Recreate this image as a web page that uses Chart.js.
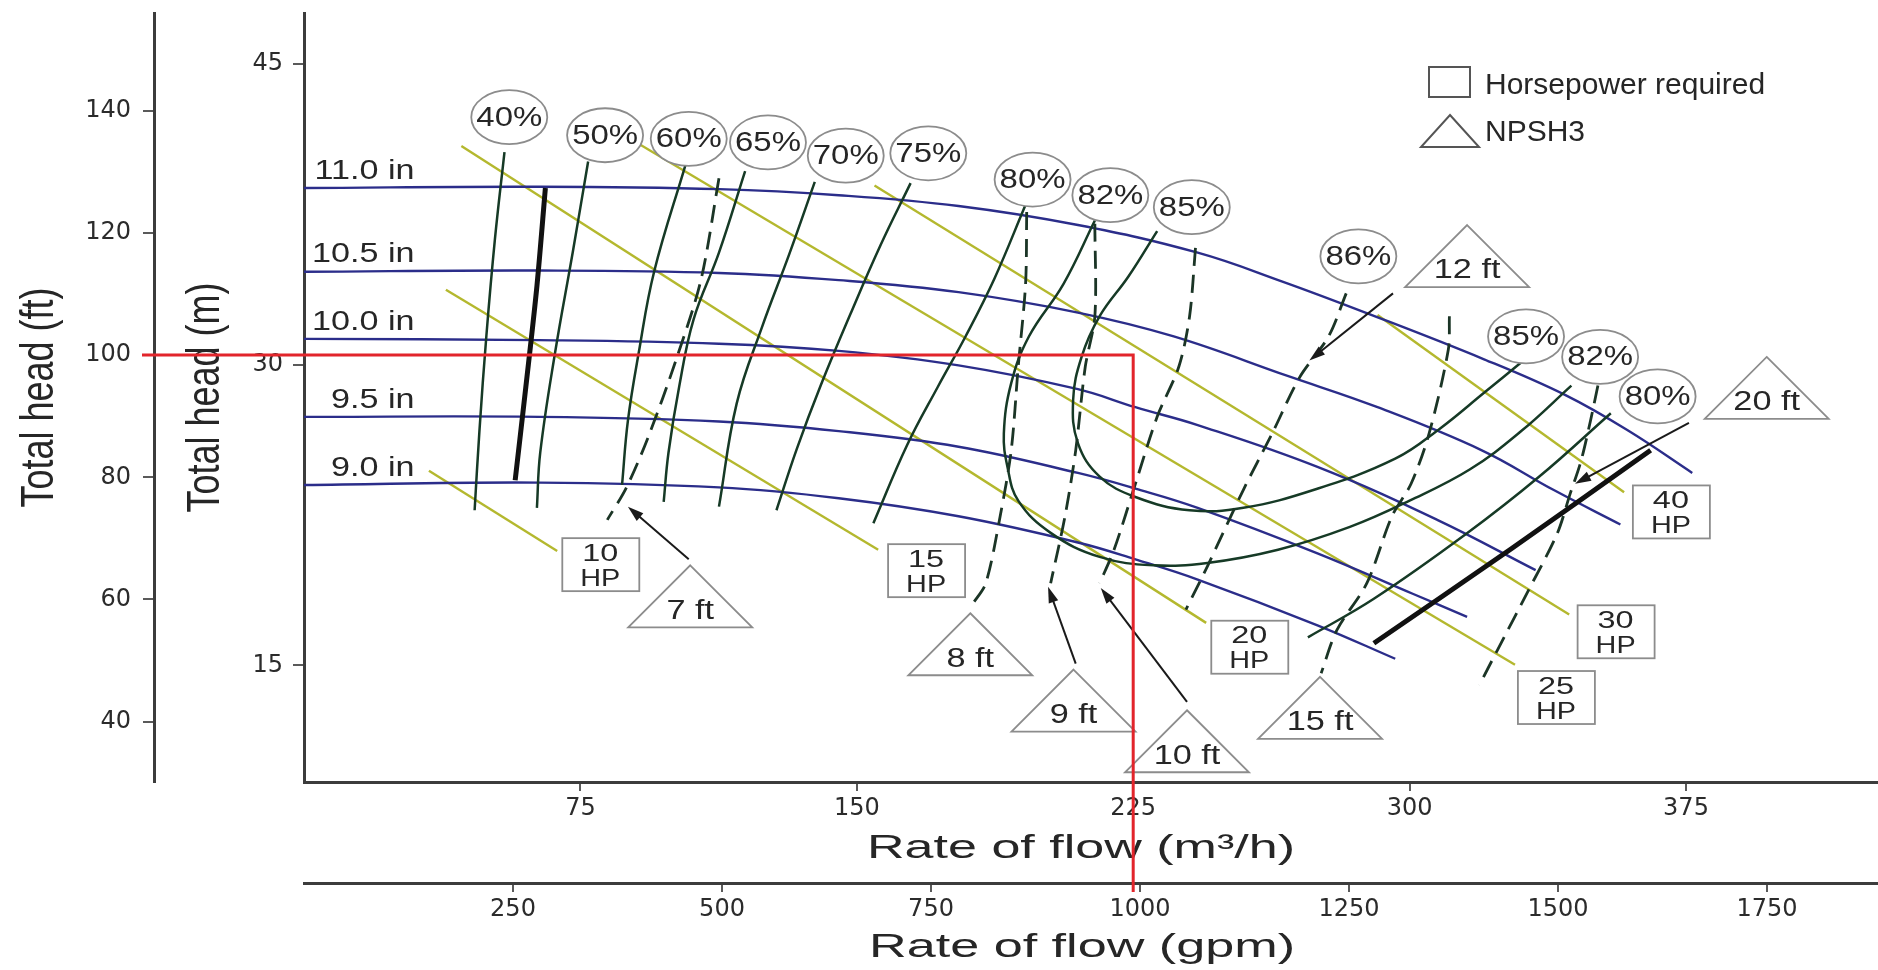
<!DOCTYPE html>
<html>
<head>
<meta charset="utf-8">
<title>Pump curves</title>
<script src="https://cdn.jsdelivr.net/npm/chart.js@4.4.1/dist/chart.umd.min.js"></script>
<style>
  html, body { margin: 0; padding: 0; background: #fff; overflow: hidden; }
  .graph { position: relative; width: 1878px; height: 970px; }
</style>
</head>
<body>
<div class="graph"><canvas id="pumpChart"></canvas></div>
<script>
// axis ticks
const flowTicks = [75, 150, 225, 300, 375];              // m3/h
const gpmTicks = [250, 500, 750, 1000, 1250, 1500, 1750];
const headMTicks = [15, 30, 45];
const headFtTicks = [40, 60, 80, 100, 120, 140];
const FT_PER_M = 3.2808;

// impeller curves, [flow m3/h, head m]
const impellerLabels = ['11.0 in', '10.5 in', '10.0 in', '9.5 in', '9.0 in'];
const imp110 = [[0, 38.82], [63.8, 38.88], [112.6, 38.76], [145.1, 38.46], [177.6, 37.92], [210.0, 36.97], [242.5, 35.59], [265.3, 34.16], [288.0, 32.6], [320.2, 30.27], [342.3, 28.48], [359.5, 26.69], [376.7, 24.6]];
const imp105 = [[0, 34.64], [63.8, 34.7], [112.6, 34.58], [145.1, 34.22], [177.6, 33.62], [210.0, 32.6], [236.0, 31.41], [266.9, 29.44], [291.3, 27.88], [319.6, 25.73], [339.0, 23.76], [357.2, 22.03]];
const imp100 = [[0, 31.29], [63.8, 31.23], [112.6, 31.05], [145.1, 30.69], [177.6, 29.97], [210.0, 28.78], [225.6, 27.88], [242.5, 26.99], [275.0, 24.9], [307.5, 22.26], [334.2, 19.75]];
const imp95 = [[0, 27.4], [63.8, 27.4], [112.6, 27.17], [145.1, 26.69], [177.6, 25.91], [210.0, 24.6], [225.6, 23.82], [242.5, 22.86], [275.0, 20.59], [301.0, 18.56], [315.6, 17.42]];
const imp90 = [[0, 24.0], [63.8, 24.12], [112.6, 23.88], [145.1, 23.34], [177.6, 22.44], [210.0, 21.13], [225.6, 20.29], [242.5, 19.28], [275.0, 17.0], [296.1, 15.33]];
const impellerCurves = [imp110, imp105, imp100, imp95, imp90];

// horsepower required
const hpLabels = ['10', '15', '20', '25', '30', '40'];
const hp10 = [[33.9, 24.71], [68.7, 20.71]];
const hp15 = [[38.5, 33.74], [155.8, 20.77]];
const hp20 = [[42.7, 40.91], [244.8, 17.12]];
const hp25 = [[90.8, 41.03], [328.6, 15.03]];
const hp30 = [[154.8, 38.94], [343.3, 17.54]];
const hp40 = [[291.3, 32.48], [358.2, 23.64]];
const hpLines = [hp10, hp15, hp20, hp25, hp30, hp40];
const hpBoxAt = [[80.4, 20.05], [168.8, 19.75], [256.5, 15.93], [339.7, 13.42], [355.9, 16.7], [370.9, 22.68]];

// efficiency
const eff40 = [[54.4, 40.61], [51.8, 36.25], [49.5, 31.47], [47.6, 26.69], [46.3, 22.74]];
const eff50 = [[77.1, 40.14], [72.9, 35.59], [68.1, 30.57], [64.1, 25.61], [63.2, 22.86]];
const eff60 = [[103.5, 39.96], [95.0, 34.64], [90.8, 30.57], [87.9, 27.22], [86.3, 24.0]];
const eff65 = [[119.7, 39.66], [112.6, 35.59], [105.7, 32.25], [101.8, 28.9], [98.9, 25.61], [97.6, 23.16]];
const eff70 = [[138.6, 39.12], [131.7, 35.53], [124.3, 31.89], [117.4, 28.06], [112.6, 22.92]];
const eff75 = [[164.6, 39.06], [156.4, 35.95], [148.3, 32.54], [140.2, 28.96], [133.7, 25.79], [128.2, 22.74]];
const eff80a = [[195.8, 37.98], [187.3, 34.28], [179.5, 31.41], [172.0, 28.9], [163.6, 25.97], [154.5, 22.09]];
const eff82 = [[214.6, 37.2], [206.1, 34.04], [196.7, 31.41], [191.9, 29.08], [189.9, 26.57], [190.9, 24.89], [193.8, 23.22], [202.6, 21.61], [215.9, 20.41], [230.5, 19.99], [245.1, 20.11], [264.3, 20.77], [283.8, 21.91], [300.0, 23.22], [316.3, 24.77], [330.3, 26.69], [343.9, 28.96]];
const eff85 = [[231.5, 36.67], [223.7, 34.4], [215.9, 32.42], [211.0, 30.39], [208.7, 28.24], [210.0, 26.09], [215.9, 24.42], [225.6, 23.4], [240.3, 22.74], [254.9, 22.86], [274.1, 23.76], [296.1, 25.31], [308.2, 26.81], [320.2, 28.6], [330.9, 30.21]];
const eff80b = [[272.4, 16.4], [290.3, 18.32], [315.3, 21.55], [335.2, 24.42], [354.6, 27.58]];
const effLines = [eff40, eff50, eff60, eff65, eff70, eff75, eff80a, eff82, eff85, eff80b];
const effLabels = ['40%', '50%', '60%', '65%', '70%', '75%', '80%', '82%', '85%', '86%', '85%', '82%', '80%'];
const effLabelAt = [[55.7, 42.35], [81.7, 41.45], [104.4, 41.27], [125.9, 41.09], [147.0, 40.43], [169.4, 40.55], [197.7, 39.24], [218.8, 38.46], [240.9, 37.86], [286.1, 35.41], [331.6, 31.41], [351.7, 30.39], [367.3, 28.42]];

// operating limits (thick lines)
const minFlowLine = [[65.5, 38.82], [63.2, 33.92], [60.2, 28.9], [57.3, 24.24]];
const maxFlowLine = [[290.3, 16.1], [327.7, 20.83], [365.4, 25.73]];

// NPSH3
const npshLabels = ['7 ft', '8 ft', '9 ft', '10 ft', '12 ft', '15 ft', '20 ft'];
const npsh7 = [[112.6, 39.3], [107.7, 34.22], [100.9, 30.21], [93.4, 26.39], [87.5, 23.88], [82.3, 22.26]];
const npsh8 = [[196.1, 37.62], [195.8, 34.04], [193.8, 29.91], [191.9, 25.73], [188.9, 22.44], [185.0, 19.1], [181.5, 18.08]];
const npsh9 = [[214.6, 37.03], [214.6, 32.42], [212.0, 29.91], [209.4, 25.73], [206.5, 22.44], [202.6, 19.1]];
const npsh10 = [[241.9, 35.83], [240.3, 32.42], [237.4, 29.91], [231.5, 27.4], [225.6, 24.06], [219.8, 20.77], [215.9, 19.1]];
const npsh12 = [[282.8, 33.56], [278.0, 31.41], [270.2, 29.38], [262.7, 26.57], [254.9, 23.76], [245.1, 19.93], [239.3, 17.78]];
const npsh15 = [[310.8, 32.42], [310.5, 30.75], [305.3, 26.57], [300.4, 24.06], [295.2, 22.44], [288.4, 19.1], [280.3, 16.77], [276.0, 14.61]];
const npsh20 = [[351.1, 28.96], [349.1, 27.22], [346.5, 25.19], [343.6, 23.58], [340.0, 21.55], [331.9, 18.62], [323.8, 15.75], [318.9, 14.01]];
const npshLines = [npsh7, npsh8, npsh9, npsh10, npsh12, npsh15, npsh20];
const npshTriAt = [[104.8, 19.99], [180.8, 17.6], [208.8, 14.79], [239.6, 12.76], [315.6, 36.97], [275.7, 14.43], [396.9, 30.39]];
const npshArrowFrom = [[104.4, 20.29], null, [209.4, 15.09], [239.6, 13.18], [295.5, 33.56], null, [375.8, 27.1]];
const npshArrowTo = [[87.9, 22.92], null, [201.9, 18.92], [216.2, 18.86], [272.8, 30.21], null, [344.9, 24.06]];

// duty point
const dutyFlow = 225;
const dutyHeadFt = 100;

const ink = '#262626';
const sans = '"Liberation Sans", Arial, sans-serif';

function pts(arr) {
  return arr.map(function (p) { return { x: p[0], y: p[1] }; });
}

function putText(ctx, str, x, y, size, sx, align) {
  ctx.save();
  ctx.translate(x, y);
  ctx.scale(sx, 1);
  ctx.font = size + 'px ' + sans;
  ctx.textAlign = align || 'center';
  ctx.textBaseline = 'middle';
  ctx.fillStyle = ink;
  ctx.fillText(str, 0, 0);
  ctx.restore();
}

function putVertical(ctx, str, x, y, size, thick) {
  ctx.save();
  ctx.translate(x, y);
  ctx.rotate(-Math.PI / 2);
  ctx.scale(1, thick);
  ctx.font = size + 'px ' + sans;
  ctx.textAlign = 'center';
  ctx.textBaseline = 'middle';
  ctx.fillStyle = ink;
  ctx.fillText(str, 0, 0);
  ctx.restore();
}

function putWide(ctx, str, x, y, size, width) {
  ctx.save();
  ctx.font = size + 'px ' + sans;
  const sx = width / ctx.measureText(str).width;
  ctx.translate(x, y);
  ctx.scale(sx, 1);
  ctx.textAlign = 'center';
  ctx.textBaseline = 'middle';
  ctx.fillStyle = ink;
  ctx.fillText(str, 0, 0);
  ctx.restore();
}

function arrow(ctx, x1, y1, x2, y2) {
  const a = Math.atan2(y2 - y1, x2 - x1);
  const c = Math.cos(a), s = Math.sin(a);
  ctx.beginPath();
  ctx.moveTo(x1, y1);
  ctx.lineTo(x2 - 10 * c, y2 - 10 * s);
  ctx.stroke();
  ctx.beginPath();
  ctx.moveTo(x2, y2);
  ctx.lineTo(x2 - 16 * c + 5 * s, y2 - 16 * s - 5 * c);
  ctx.lineTo(x2 - 16 * c - 5 * s, y2 - 16 * s + 5 * c);
  ctx.closePath();
  ctx.fill();
}

function triangle(ctx, ax, ay, w, h) {
  ctx.beginPath();
  ctx.moveTo(ax, ay);
  ctx.lineTo(ax + w / 2, ay + h);
  ctx.lineTo(ax - w / 2, ay + h);
  ctx.closePath();
  ctx.fill();
  ctx.stroke();
}

const pumpMarks = {
  id: 'pumpMarks',
  afterDatasetsDraw(chart) {
    const ctx = chart.ctx;
    const x = chart.scales.x, y = chart.scales.y;
    const X = function (v) { return x.getPixelForValue(v); };
    const Y = function (v) { return y.getPixelForValue(v); };
    ctx.save();

    // impeller diameters, right aligned above the shut-off end
    impellerCurves.forEach(function (c, i) {
      putText(ctx, impellerLabels[i], X(30), Y(c[0][1]) - 17, 28, 1.22, 'right');
    });

    // efficiency ellipses
    ctx.lineWidth = 1.8;
    ctx.strokeStyle = '#8c8c8c';
    effLabels.forEach(function (t, i) {
      const cx = X(effLabelAt[i][0]), cy = Y(effLabelAt[i][1]);
      ctx.beginPath();
      ctx.ellipse(cx, cy, 38, 27, 0, 0, Math.PI * 2);
      ctx.fillStyle = '#fff';
      ctx.fill();
      ctx.stroke();
      putText(ctx, t, cx, cy + 1, 27, 1.22);
    });

    // horsepower boxes
    hpLabels.forEach(function (t, i) {
      const cx = X(hpBoxAt[i][0]), cy = Y(hpBoxAt[i][1]);
      ctx.fillStyle = '#fff';
      ctx.fillRect(cx - 38, cy - 26, 77, 53);
      ctx.strokeRect(cx - 38, cy - 26, 77, 53);
      putText(ctx, t, cx, cy - 10, 24, 1.35);
      putText(ctx, 'HP', cx, cy + 15, 24, 1.2);
    });

    // NPSH arrows, then triangles
    ctx.strokeStyle = '#1a1a1a';
    ctx.fillStyle = '#1a1a1a';
    ctx.lineWidth = 2;
    npshArrowFrom.forEach(function (f, i) {
      if (!f) return;
      arrow(ctx, X(f[0]), Y(f[1]), X(npshArrowTo[i][0]), Y(npshArrowTo[i][1]));
    });
    ctx.strokeStyle = '#8c8c8c';
    ctx.lineWidth = 1.8;
    npshLabels.forEach(function (t, i) {
      const ax = X(npshTriAt[i][0]), ay = Y(npshTriAt[i][1]);
      ctx.fillStyle = '#fff';
      triangle(ctx, ax, ay, 124, 62);
      putText(ctx, t, ax, ay + 46, 27, 1.27);
    });
    ctx.restore();
  },
  afterDraw(chart) {
    const ctx = chart.ctx;
    const area = chart.chartArea;
    const sc = chart.scales;
    ctx.save();

    // legend
    const L = area.right - 449, T = area.top;
    ctx.strokeStyle = '#555';
    ctx.lineWidth = 2;
    ctx.strokeRect(L, T + 54, 41, 30);
    putText(ctx, 'Horsepower required', L + 56, T + 73, 30, 1.0, 'left');
    ctx.fillStyle = '#fff';
    triangle(ctx, L + 21, T + 102, 58, 32);
    putText(ctx, 'NPSH3', L + 56, T + 120, 30, 1.0, 'left');

    // axis titles
    const midY = (area.top + area.bottom) / 2;
    putVertical(ctx, 'Total head (ft)', sc.y2.left + 40, midY, 36, 1.28);
    putVertical(ctx, 'Total head (m)', sc.y.left + 52, midY, 36, 1.28);
    putWide(ctx, 'Rate of flow (m\u00b3/h)', area.left + 777, sc.x.top + 67, 34, 428);
    putWide(ctx, 'Rate of flow (gpm)', area.left + 778, sc.x2.top + 65, 34, 426);

    // duty point lines
    const xd = sc.x.getPixelForValue(dutyFlow);
    const yd = sc.y2.getPixelForValue(dutyHeadFt);
    ctx.strokeStyle = '#e2252b';
    ctx.lineWidth = 3;
    ctx.beginPath();
    ctx.moveTo(sc.y2.right - 12, yd);
    ctx.lineTo(xd, yd);
    ctx.lineTo(xd, sc.x2.top + 9);
    ctx.stroke();
    ctx.restore();
  }
};

const tickFont = { family: '"DejaVu Sans", sans-serif', size: 24 };

function axis(position, weight, min, max, ticks, size, tickLen, pad) {
  return {
    type: 'linear',
    axis: position === 'left' ? 'y' : 'x',
    position: position,
    weight: weight,
    min: min,
    max: max,
    afterBuildTicks: function (scale) {
      scale.ticks = ticks.map(function (v) { return { value: v }; });
    },
    afterFit: function (scale) {
      if (position === 'left') scale.width = size; else scale.height = size;
      scale.paddingLeft = 0;
      scale.paddingRight = 0;
      scale.paddingTop = 0;
      scale.paddingBottom = 0;
    },
    grid: { drawOnChartArea: false, drawTicks: true, tickLength: tickLen, color: '#5a5a5a', lineWidth: 2 },
    border: { display: true, color: '#3c3c3c', width: 3 },
    ticks: {
      font: tickFont, color: '#2b2b2b', padding: pad, autoSkip: false, maxRotation: 0, minRotation: 0,
      callback: function (v) { return String(v); }
    }
  };
}

const common = { showLine: true, pointRadius: 0, pointHoverRadius: 0, fill: false };
const datasets = [];
// first in the list is drawn on top
datasets.push(Object.assign({ label: 'minimum flow', data: pts(minFlowLine), borderColor: '#111', borderWidth: 5, tension: 0.3 }, common));
datasets.push(Object.assign({ label: 'maximum flow', data: pts(maxFlowLine), borderColor: '#111', borderWidth: 5, tension: 0.3 }, common));
npshLines.forEach(function (c, i) {
  datasets.push(Object.assign({ label: 'NPSH3 ' + npshLabels[i], data: pts(c), borderColor: '#1b3526', borderWidth: 2.8, borderDash: [18, 9], tension: 0.3 }, common));
});
effLines.forEach(function (c, i) {
  datasets.push(Object.assign({ label: 'efficiency ' + i, data: pts(c), borderColor: '#163a26', borderWidth: 2.5, tension: 0.4 }, common));
});
impellerCurves.forEach(function (c, i) {
  datasets.push(Object.assign({ label: impellerLabels[i], data: pts(c), borderColor: '#2b2d8a', borderWidth: 2.4, tension: 0.4 }, common));
});
hpLines.forEach(function (c, i) {
  datasets.push(Object.assign({ label: hpLabels[i] + ' HP', data: pts(c), borderColor: '#b4b82e', borderWidth: 2.4, tension: 0 }, common));
});

new Chart(document.getElementById('pumpChart'), {
  type: 'scatter',
  data: { datasets: datasets },
  options: {
    responsive: true,
    maintainAspectRatio: false,
    devicePixelRatio: 1,
    animation: false,
    events: [],
    layout: { padding: { top: 13, left: 0, right: 0, bottom: 0 } },
    plugins: { legend: { display: false }, tooltip: { enabled: false } },
    scales: {
      x: axis('bottom', 0, 0, 427.1, flowTicks, 101, 9, 3),
      x2: axis('bottom', 1, 0, 1882.7, gpmTicks, 87, 9, 3),
      y: axis('left', 0, 9.18, 47.55, headMTicks, 150, 11, 10),
      y2: axis('left', 1, 9.18 * FT_PER_M, 47.55 * FT_PER_M, headFtTicks, 154, 11, 12)
    }
  },
  plugins: [pumpMarks]
});
</script>
</body>
</html>
